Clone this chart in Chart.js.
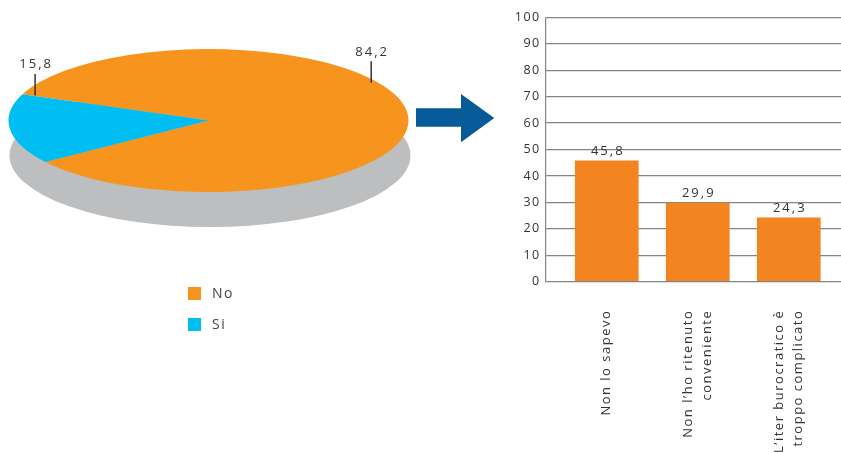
<!DOCTYPE html>
<html lang="it">
<head>
<meta charset="utf-8">
<script src="https://cdn.jsdelivr.net/npm/chart.js@4/dist/chart.umd.min.js"></script>
<style>
  html, body { margin: 0; padding: 0; background: #fff; width: 841px; height: 453px; overflow: hidden; }
  #pie { position: absolute; left: 0; top: 0; }
  #bars { position: absolute; left: 500px; top: 0; }
  #arrow { position: absolute; left: 0; top: 0; }
  #legend { position: absolute; left: 188px; top: 287px; font: 14px "Open Sans", sans-serif; color: #444; letter-spacing: 1.5px; }
  #legend .row { position: relative; height: 31px; }
  #legend .sw { position: absolute; left: 0; top: 0; width: 13px; height: 13px; }
  #legend .tx { position: absolute; left: 24px; top: -3px; line-height: 18px; }
</style>
</head>
<body>
<canvas id="pie" width="417" height="241"></canvas>
<svg id="arrow" width="841" height="453">
  <polygon points="416,108.3 461,108.3 461,94 494.3,118 461,142.3 461,126.7 416,126.7" fill="#065a98"/>
</svg>
<div id="legend"></div>
<canvas id="bars" width="341" height="453"></canvas>
<script>
// Answers: did you apply?
const answerLabels = ['No', 'Si'];
const answerShares = [84.2, 15.8];
const answerColors = ['#f7941e', '#00bef2'];

// Reasons for not applying
const reasonLabels = [
  ['Non lo sapevo'],
  ['Non l\u2019ho ritenuto', 'conveniente'],
  ['L\u2019iter burocratico \u00e8', 'troppo complicato']
];
const reasonValues = [45.8, 29.9, 24.3];
const barColor = '#f3841f';

// Value axis
const yMin = 0, yMax = 100, yStep = 10;

const FONT = '"Open Sans", sans-serif';
const TEXT = '#333';
const fmt = v => v.toFixed(1).replace('.', ',');

// Tilted pie look
const TILT = 0.3575;
const DEPTH = 35;
const leaderAngles = [-33, 202];   // degrees, where each leader line touches its slice
const leaderReach = [0.97, 0.935]; // fraction of the radius
const LEADER = 21.5;

const tiltPlugin = {
  id: 'tilt',
  beforeDatasetsDraw(chart) {
    const arc = chart.getDatasetMeta(0).data[0];
    const { x, y, outerRadius: r } = arc.getProps(['x', 'y', 'outerRadius'], true);
    const ctx = chart.ctx;
    // shadow disc under the pie
    ctx.save();
    ctx.fillStyle = '#bcbec0';
    ctx.beginPath();
    ctx.ellipse(x + 1.5, y + DEPTH, r + 0.5, r * TILT, 0, 0, Math.PI * 2);
    ctx.fill();
    ctx.restore();
    // flatten the slices into an ellipse
    ctx.save();
    ctx.translate(x, y);
    ctx.scale(1, TILT);
    ctx.translate(-x, -y);
  },
  afterDatasetsDraw(chart) {
    const ctx = chart.ctx;
    ctx.restore();
    const arc = chart.getDatasetMeta(0).data[0];
    const { x, y, outerRadius: r } = arc.getProps(['x', 'y', 'outerRadius'], true);
    ctx.save();
    ctx.strokeStyle = '#333';
    ctx.lineWidth = 1.5;
    ctx.fillStyle = TEXT;
    ctx.font = '13px ' + FONT;
    ctx.letterSpacing = '2px';
    ctx.textAlign = 'center';
    ctx.textBaseline = 'alphabetic';
    answerShares.forEach((v, i) => {
      const a = leaderAngles[i] * Math.PI / 180;
      const ax = x + Math.cos(a) * r * leaderReach[i];
      const ay = y + Math.sin(a) * r * leaderReach[i] * TILT;
      ctx.beginPath();
      ctx.moveTo(ax, ay);
      ctx.lineTo(ax, ay - LEADER);
      ctx.stroke();
      ctx.fillText(fmt(v), ax + 1, ay - LEADER - 5.5);
    });
    ctx.restore();
  }
};

const pieChart = new Chart(document.getElementById('pie'), {
  type: 'pie',
  data: {
    labels: answerLabels,
    datasets: [{
      data: answerShares,
      backgroundColor: answerColors,
      borderWidth: 0,
      radius: 200,
      clip: false
    }]
  },
  options: {
    responsive: false,
    animation: false,
    events: [],
    rotation: -68.5,
    layout: { padding: 0 },
    plugins: { legend: { display: false }, tooltip: { enabled: false } }
  },
  plugins: [tiltPlugin]
});

// Legend built from the pie's own labels and colours
const legend = document.getElementById('legend');
pieChart.data.labels.forEach((lab, i) => {
  const row = document.createElement('div');
  row.className = 'row';
  const sw = document.createElement('span');
  sw.className = 'sw';
  sw.style.background = pieChart.data.datasets[0].backgroundColor[i];
  const tx = document.createElement('span');
  tx.className = 'tx';
  tx.textContent = lab;
  row.appendChild(sw);
  row.appendChild(tx);
  legend.appendChild(row);
});

const barTextPlugin = {
  id: 'barText',
  beforeDraw(chart) { chart.ctx.letterSpacing = '1.5px'; },
  afterDatasetsDraw(chart) {
    const ctx = chart.ctx;
    const meta = chart.getDatasetMeta(0);
    ctx.save();
    ctx.fillStyle = TEXT;
    ctx.font = '13px ' + FONT;
    ctx.letterSpacing = '2px';
    ctx.textAlign = 'center';
    ctx.textBaseline = 'alphabetic';
    meta.data.forEach((bar, i) => {
      ctx.fillText(fmt(reasonValues[i]), bar.x + 1, bar.y - 5.5);
    });
    const xs = chart.scales.x;
    ctx.letterSpacing = '1.5px';
    ctx.textAlign = 'right';
    ctx.textBaseline = 'middle';
    const lh = 18.5;
    reasonLabels.forEach((lines, i) => {
      const px = xs.getPixelForValue(i);
      ctx.save();
      ctx.translate(px, chart.chartArea.bottom + 28);
      ctx.rotate(-Math.PI / 2);
      lines.forEach((t, k) => ctx.fillText(t, 0, (k - (lines.length - 1) / 2) * lh));
      ctx.restore();
    });
    ctx.restore();
  }
};

new Chart(document.getElementById('bars'), {
  type: 'bar',
  data: {
    datasets: [{
      data: reasonValues.map((v, i) => ({ x: i, y: v })),
      backgroundColor: barColor,
      borderWidth: 0,
      barPercentage: 0.7,
      categoryPercentage: 1
    }]
  },
  options: {
    responsive: false,
    animation: false,
    events: [],
    layout: { padding: { top: 17.3, bottom: 171.3, left: 0, right: 0 } },
    plugins: { legend: { display: false }, tooltip: { enabled: false } },
    scales: {
      x: {
        type: 'linear',
        display: false,
        offset: false,
        bounds: 'data',
        min: -0.671,
        max: 2.574,
        afterBuildTicks(axis) { axis.ticks = reasonValues.map((_, i) => ({ value: i })); }
      },
      y: {
        min: yMin,
        max: yMax,
        ticks: { stepSize: yStep, padding: 5, color: TEXT, font: { family: 'Open Sans', size: 12.5 } },
        grid: { color: '#858585', lineWidth: 1.2, drawTicks: false },
        border: { display: true, color: '#858585', width: 1.2 },
        afterFit(s) { s.width = 45.7; }
      }
    }
  },
  plugins: [barTextPlugin]
});
</script>
</body>
</html>
